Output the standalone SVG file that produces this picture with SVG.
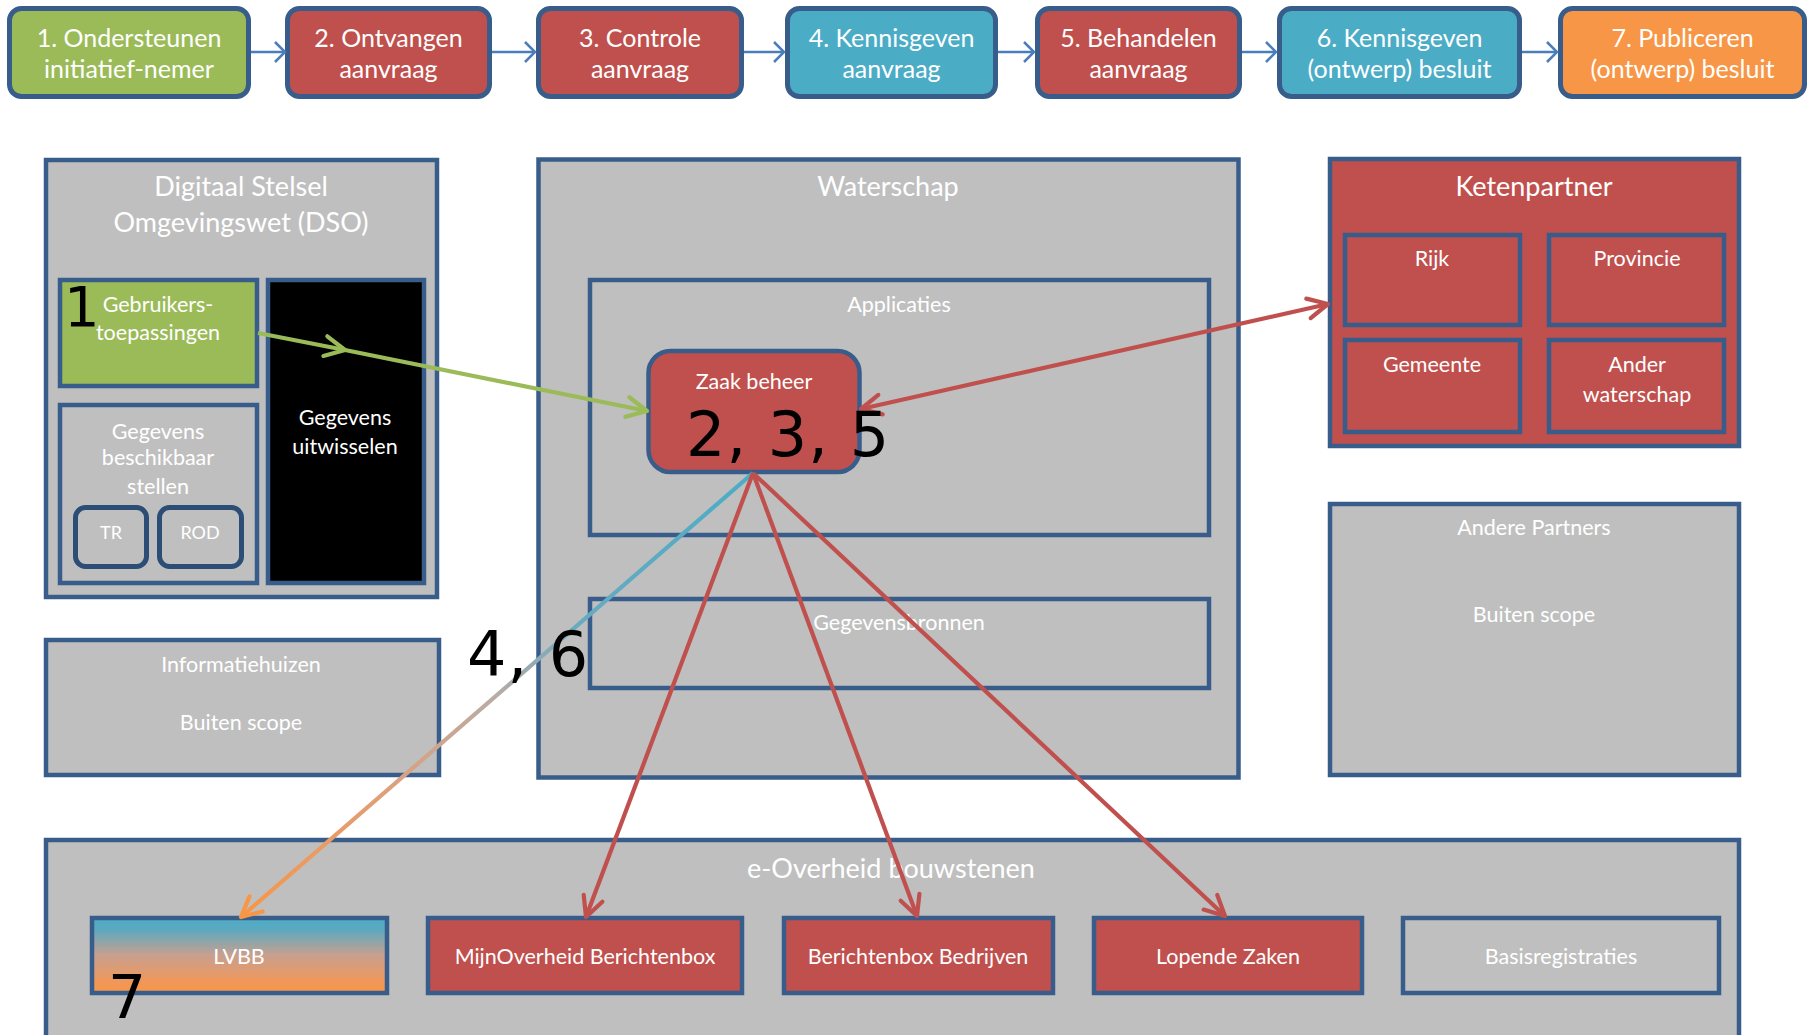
<svg xmlns="http://www.w3.org/2000/svg" width="1812" height="1035" viewBox="0 0 1812 1035">
<style>
.box{stroke:#385D8A;stroke-width:4.5}
.step{stroke:#385D8A;stroke-width:5}
.gray{fill:#BFBFBF}
.red{fill:#C0504D}
.green{fill:#9BBB59}
.teal{fill:#4BACC6}
.orange{fill:#F79646}
.t{font-family:Lato,"Open Sans",sans-serif;fill:#FFFFFF;text-anchor:middle}
.ts{font-size:25px}
.tl{font-size:27px}
.tm{font-size:21.5px}
.tx{font-size:18px}
.num{font-family:"DejaVu Sans",sans-serif;fill:#000000}
.c{fill:none;stroke-width:4.2}
</style>
<defs>
<marker id="ab" markerUnits="userSpaceOnUse" markerWidth="14" markerHeight="22" viewBox="0 0 14 22" refX="11" refY="11" orient="auto" overflow="visible">
<path d="M1,1 L11,11 L1,21" fill="none" stroke="#4A7EBB" stroke-width="2.5"/>
</marker>
<marker id="ar" markerUnits="userSpaceOnUse" markerWidth="26" markerHeight="26" viewBox="0 0 26 26" refX="23" refY="13" orient="auto-start-reverse" overflow="visible">
<path d="M3,3 L23,13 L3,23" fill="none" stroke="#C0504D" stroke-width="4.2" stroke-linecap="round" stroke-linejoin="round"/>
</marker>
<marker id="ag" markerUnits="userSpaceOnUse" markerWidth="26" markerHeight="26" viewBox="0 0 26 26" refX="23" refY="13" orient="auto" overflow="visible">
<path d="M3,3 L23,13 L3,23" fill="none" stroke="#9BBB59" stroke-width="4.2" stroke-linecap="round" stroke-linejoin="round"/>
</marker>
<marker id="ao" markerUnits="userSpaceOnUse" markerWidth="26" markerHeight="26" viewBox="0 0 26 26" refX="23" refY="13" orient="auto" overflow="visible">
<path d="M3,3 L23,13 L3,23" fill="none" stroke="#F79646" stroke-width="4.2" stroke-linecap="round" stroke-linejoin="round"/>
</marker>
<linearGradient id="lvbbGrad" x1="0" y1="0" x2="0" y2="1">
<stop offset="0" stop-color="#4BACC6"/>
<stop offset="0.15" stop-color="#5BA9C0"/>
<stop offset="0.5" stop-color="#C8A08E"/>
<stop offset="0.85" stop-color="#F0975A"/>
<stop offset="1" stop-color="#F79646"/>
</linearGradient>
<linearGradient id="lineGrad" gradientUnits="userSpaceOnUse" x1="753" y1="474" x2="241" y2="917">
<stop offset="0" stop-color="#4BACC6"/>
<stop offset="0.35" stop-color="#6AAAC0"/>
<stop offset="0.5" stop-color="#B8ACA6"/>
<stop offset="0.7" stop-color="#DDA07E"/>
<stop offset="1" stop-color="#F79646"/>
</linearGradient>
</defs>

<!-- process steps -->
<g id="step1"><rect class="step green" x="9.5" y="8.5" width="239" height="88" rx="12"/><text class="t ts" x="129" y="47">1. Ondersteunen</text><text class="t ts" x="129" y="78">initiatief-nemer</text></g>
<g id="step2"><rect class="step red" x="287.5" y="8.5" width="202" height="88" rx="12"/><text class="t ts" x="388.5" y="47">2. Ontvangen</text><text class="t ts" x="388.5" y="78">aanvraag</text></g>
<g id="step3"><rect class="step red" x="538.5" y="8.5" width="203" height="88" rx="12"/><text class="t ts" x="640" y="47">3. Controle</text><text class="t ts" x="640" y="78">aanvraag</text></g>
<g id="step4"><rect class="step teal" x="787.5" y="8.5" width="208" height="88" rx="12"/><text class="t ts" x="891.5" y="47">4. Kennisgeven</text><text class="t ts" x="891.5" y="78">aanvraag</text></g>
<g id="step5"><rect class="step red" x="1037.5" y="8.5" width="202" height="88" rx="12"/><text class="t ts" x="1138.5" y="47">5. Behandelen</text><text class="t ts" x="1138.5" y="78">aanvraag</text></g>
<g id="step6"><rect class="step teal" x="1279.5" y="8.5" width="240" height="88" rx="12"/><text class="t ts" x="1399.5" y="47">6. Kennisgeven</text><text class="t ts" x="1399.5" y="78">(ontwerp) besluit</text></g>
<g id="step7"><rect class="step orange" x="1560.5" y="8.5" width="244" height="88" rx="12"/><text class="t ts" x="1682.5" y="47">7. Publiceren</text><text class="t ts" x="1682.5" y="78">(ontwerp) besluit</text></g>

<!-- DSO -->
<g id="dso">
<rect class="box gray" x="46" y="160" width="391" height="437"/>
<text class="t tl" x="241" y="196">Digitaal Stelsel</text>
<text class="t tl" x="241" y="232">Omgevingswet (DSO)</text>
</g>
<g id="gebruikers"><rect class="box green" x="60" y="280" width="197" height="106"/><text class="t tm" x="158" y="312">Gebruikers-</text><text class="t tm" x="158" y="340">toepassingen</text></g>
<g id="uitwisselen"><rect class="box" fill="#000000" x="268" y="280" width="156" height="303"/><text class="t tm" x="345" y="425">Gegevens</text><text class="t tm" x="345" y="454">uitwisselen</text></g>
<g id="beschikbaar"><rect class="box gray" x="60" y="405" width="197" height="178"/><text class="t tm" x="158" y="439">Gegevens</text><text class="t tm" x="158" y="465">beschikbaar</text><text class="t tm" x="158" y="494">stellen</text></g>
<g id="tr"><rect class="gray" stroke="#2C4D75" stroke-width="5" x="75.5" y="507.5" width="71" height="59" rx="10"/><text class="t tx" x="111" y="539">TR</text></g>
<g id="rod"><rect class="gray" stroke="#2C4D75" stroke-width="5" x="159.5" y="507.5" width="82" height="59" rx="10"/><text class="t tx" x="200" y="539">ROD</text></g>

<!-- Informatiehuizen -->
<g id="informatiehuizen"><rect class="box gray" x="46" y="640" width="393" height="135"/><text class="t tm" x="241" y="672">Informatiehuizen</text><text class="t tm" x="241" y="730">Buiten scope</text></g>

<!-- Waterschap -->
<g id="waterschap"><rect class="box gray" x="538.5" y="159.5" width="700" height="618"/><text class="t tl" x="888" y="196">Waterschap</text></g>
<g id="applicaties"><rect class="box gray" x="590" y="280" width="619" height="255"/><text class="t tm" x="899" y="312">Applicaties</text></g>
<g id="zaakbeheer"><rect class="box red" x="648.5" y="351" width="211" height="121" rx="22"/><text class="t tm" x="754" y="389">Zaak beheer</text></g>
<g id="gegevensbronnen"><rect class="box gray" x="590" y="599" width="619" height="89"/><text class="t tm" x="899" y="630">Gegevensbronnen</text></g>

<!-- Ketenpartner -->
<g id="ketenpartner"><rect class="box red" x="1330" y="159" width="409" height="287"/><text class="t tl" x="1534" y="196">Ketenpartner</text></g>
<g id="rijk"><rect class="box red" x="1345" y="235" width="175" height="90"/><text class="t tm" x="1432" y="266">Rijk</text></g>
<g id="provincie"><rect class="box red" x="1549" y="235" width="175" height="90"/><text class="t tm" x="1637" y="266">Provincie</text></g>
<g id="gemeente"><rect class="box red" x="1345" y="340" width="175" height="92"/><text class="t tm" x="1432" y="372">Gemeente</text></g>
<g id="anderwaterschap"><rect class="box red" x="1549" y="340" width="175" height="92"/><text class="t tm" x="1637" y="372">Ander</text><text class="t tm" x="1637" y="402">waterschap</text></g>

<!-- Andere Partners -->
<g id="anderepartners"><rect class="box gray" x="1330" y="504" width="409" height="271"/><text class="t tm" x="1534" y="535">Andere Partners</text><text class="t tm" x="1534" y="622">Buiten scope</text></g>

<!-- e-Overheid -->
<g id="eoverheid"><rect class="box gray" x="46" y="840" width="1693" height="210"/><text class="t tl" x="891" y="878">e-Overheid bouwstenen</text></g>
<g id="lvbb"><rect class="box" fill="url(#lvbbGrad)" x="92" y="918" width="295" height="75"/><text class="t tm" x="239" y="964">LVBB</text></g>
<g id="mijnoverheid"><rect class="box red" x="428" y="918" width="314" height="75"/><text class="t tm" x="585" y="964">MijnOverheid Berichtenbox</text></g>
<g id="berichtenbox"><rect class="box red" x="784" y="918" width="269" height="75"/><text class="t tm" x="918" y="964">Berichtenbox Bedrijven</text></g>
<g id="lopendezaken"><rect class="box red" x="1094" y="918" width="268" height="75"/><text class="t tm" x="1228" y="964">Lopende Zaken</text></g>
<g id="basisregistraties"><rect class="box gray" x="1403" y="918" width="316" height="75"/><text class="t tm" x="1561" y="964">Basisregistraties</text></g>

<!-- connectors -->
<g id="connectors">
<line x1="251" y1="52" x2="285" y2="52" stroke="#4A7EBB" stroke-width="2.5" marker-end="url(#ab)"/>
<line x1="492" y1="52" x2="535" y2="52" stroke="#4A7EBB" stroke-width="2.5" marker-end="url(#ab)"/>
<line x1="744" y1="52" x2="784" y2="52" stroke="#4A7EBB" stroke-width="2.5" marker-end="url(#ab)"/>
<line x1="998" y1="52" x2="1034" y2="52" stroke="#4A7EBB" stroke-width="2.5" marker-end="url(#ab)"/>
<line x1="1242" y1="52" x2="1276" y2="52" stroke="#4A7EBB" stroke-width="2.5" marker-end="url(#ab)"/>
<line x1="1522" y1="52" x2="1557" y2="52" stroke="#4A7EBB" stroke-width="2.5" marker-end="url(#ab)"/>
<polyline class="c" stroke="#9BBB59" points="258,333 345,350 647,411" marker-mid="url(#ag)" marker-end="url(#ag)"/>
<line class="c" stroke="#C0504D" x1="861" y1="409" x2="1328" y2="304" marker-start="url(#ar)" marker-end="url(#ar)"/>
<line class="c" stroke="url(#lineGrad)" x1="753" y1="473" x2="241" y2="917" marker-end="url(#ao)"/>
<line class="c" stroke="#C0504D" x1="753" y1="473" x2="586" y2="917" marker-end="url(#ar)"/>
<line class="c" stroke="#C0504D" x1="753" y1="473" x2="917" y2="916" marker-end="url(#ar)"/>
<line class="c" stroke="#C0504D" x1="753" y1="473" x2="1225" y2="916" marker-end="url(#ar)"/>
</g>

<!-- step numbers -->
<g id="numbers">
<text class="num" x="64" y="326" font-size="56">1</text>
<text class="num" x="686" y="456" font-size="62" letter-spacing="1">2, 3, 5</text>
<text class="num" x="467" y="676" font-size="62" letter-spacing="1">4, 6</text>
<text class="num" x="108" y="1018" font-size="60">7</text>
</g>
</svg>
